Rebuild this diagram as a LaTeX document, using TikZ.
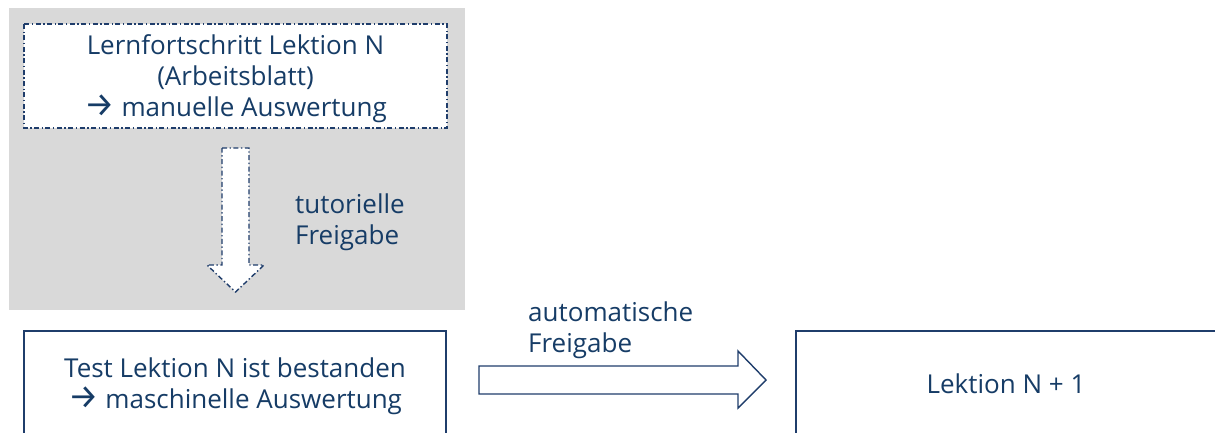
\documentclass[tikz,border=0pt]{standalone}
\usepackage{fontspec}
\setmainfont{Open Sans}
\newfontfamily\symfont{Fira Sans}
\newcommand{\rarr}{{\symfont\fontsize{34}{31}\selectfont\symbol{"2192}}}
\definecolor{ink}{HTML}{163C66}
\definecolor{frame}{HTML}{1F3D6B}
\definecolor{panel}{HTML}{D9D9D9}
\tikzset{
  dashdot/.style={draw=frame, line width=1.4pt, dash pattern=on 5pt off 2.5pt on 1.4pt off 2.5pt},
  solidbox/.style={draw=frame, line width=1.4pt, fill=white},
  label/.style={text=ink, font=\fontsize{26}{31}\selectfont, inner sep=0pt},
}
\begin{document}
\begin{tikzpicture}[x=1pt, y=-1pt]
\useasboundingbox (0,0) rectangle (1215,432);
\clip (0,0) rectangle (1215,432);
% grey panel behind the tutor step
\fill[panel] (9,8) rectangle (465,310);
% worksheet step
\draw[dashdot, fill=white] (24,24) rectangle (447,128);
\node[label, align=center] (sheet) at (235.5,79) {Lernfortschritt Lektion N\\(Arbeitsblatt)\\\rarr{} manuelle Auswertung};
% tutor release arrow
\draw[dashdot, fill=white] (222,148) -- (249,148) -- (249,265) -- (264,265) -- (235.5,292)
  -- (207,265) -- (222,265) -- cycle;
\node[label, align=left, anchor=west] (tut) at (295,222.5) {tutorielle\\Freigabe};
% test step
\draw[solidbox] (24,331) rectangle (446,450);
\node[label, align=center] (test) at (235,386.5) {Test Lektion N ist bestanden\\\rarr{} maschinelle Auswertung};
% automatic release arrow
\draw[solidbox] (479,366) -- (738,366) -- (738,351) -- (766,380) -- (738,408) -- (738,394)
  -- (479,394) -- cycle;
\node[label, align=left, anchor=west] (auto) at (528,330.5) {automatische\\Freigabe};
% next lesson
\draw[solidbox] (796,331) rectangle (1230,450);
\node[label] (next) at (1006,384) {Lektion N + 1};
\end{tikzpicture}
\end{document}
